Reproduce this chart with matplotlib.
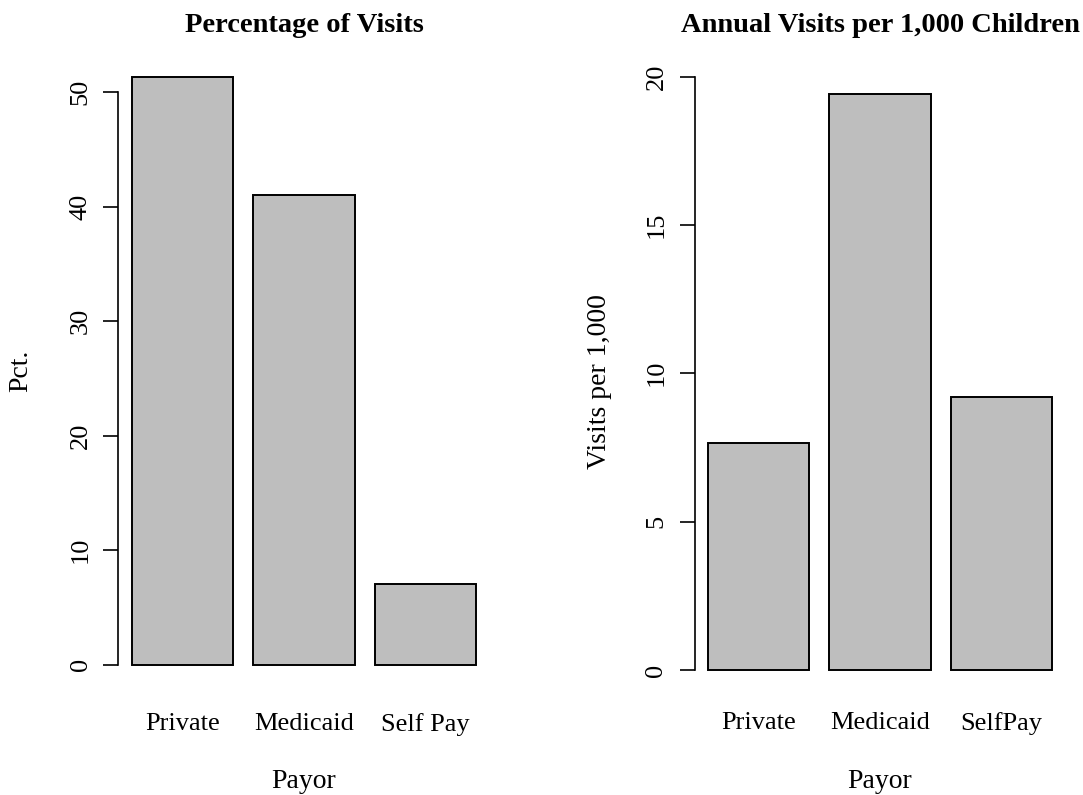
import matplotlib
matplotlib.use("Agg")
import matplotlib.pyplot as plt

payors_left = ["Private", "Medicaid", "Self Pay"]
pct_visits = [51.3, 41.0, 7.08]
payors_right = ["Private", "Medicaid", "SelfPay"]
visits_per_1000 = [7.65, 19.41, 9.2]

plt.rcParams['font.family'] = ['Liberation Serif', 'DejaVu Serif']

W, H = 1083, 795
fig = plt.figure(figsize=(W / 100, H / 100), dpi=100)

def px_box(x0, x1, ytop, ybot):
    # pixel box -> figure fraction rect
    return [x0 / W, 1 - ybot / H, (x1 - x0) / W, (ybot - ytop) / H]

def r_barplot(ax, names, vals, ticks, title, ylabel, xpad, ypad, ylpad):
    # R style: width 1, space 0.2
    centers = [0.7 + 1.2 * i for i in range(len(vals))]
    ax.bar(centers, vals, width=1.0, color="#bebebe", edgecolor="black", linewidth=1.4)
    ax.set_xlim(0.2 - 0.136, 3.6 + 0.136)
    top = max(vals)
    ax.set_ylim(-0.04 * top, top * 1.04)
    for s in ["top", "right", "bottom"]:
        ax.spines[s].set_visible(False)
    ax.spines["left"].set_bounds(ticks[0], ticks[-1])
    ax.spines["left"].set_linewidth(1.2)
    ax.set_yticks(ticks)
    ax.set_yticklabels([str(t) for t in ticks], rotation=90, va="center", fontsize=19)
    ax.tick_params(axis="y", length=11, width=1.2, pad=ypad)
    ax.set_xticks(centers)
    ax.set_xticklabels(names, fontsize=19)
    ax.tick_params(axis="x", length=0, pad=xpad)
    ax.set_xlabel("Payor", fontsize=20, labelpad=24)
    ax.set_ylabel(ylabel, fontsize=20, labelpad=ylpad)
    # title at a fixed height like R's outer margin title
    pos = ax.get_position()
    fig.text((pos.x0 + pos.x1) / 2, 1 - 32 / H, title, fontsize=20.5,
             fontweight="bold", ha="center", va="baseline")

ax1 = fig.add_axes(px_box(118, 490, 54, 688))
r_barplot(ax1, payors_left, pct_visits, [0, 10, 20, 30, 40, 50],
          "Percentage of Visits", "Pct.", xpad=18, ypad=8, ylpad=26)

ax2 = fig.add_axes(px_box(694.5, 1065.5, 71, 693))
r_barplot(ax2, payors_right, visits_per_1000, [0, 5, 10, 15, 20],
          "Annual Visits per 1,000 Children", "Visits per 1,000",
          xpad=14, ypad=8.5, ylpad=24)

fig.savefig("out.png", dpi=100)
